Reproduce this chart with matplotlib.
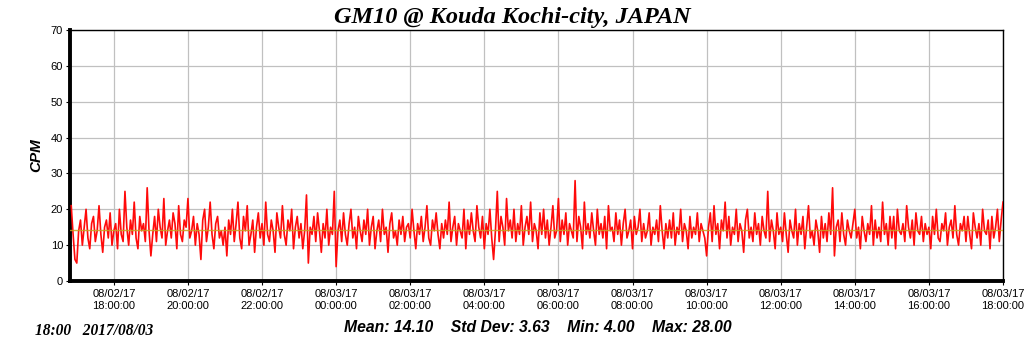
import matplotlib
matplotlib.use("Agg")
import matplotlib.pyplot as plt
import matplotlib.dates as mdates
import pandas as pd

# CPM readings, 3-minute spacing, starting 2017-08-02 16:51
cpm_start = "2017-08-02 16:51"
cpm = [
    21, 13, 6,
    5, 14, 17, 10, 15, 20, 12, 9, 16, 18, 11, 14, 21, 13, 8, 15, 17, 12, 19, 10,      # 17h
    14, 16, 9, 20, 13, 11, 25, 15, 10, 17, 13, 22, 12, 9, 18, 14, 16, 11, 26, 14,     # 18h
    7, 13, 18, 11, 20, 15, 12, 23, 10, 14, 17, 12, 19, 16, 9, 21, 13, 11, 17, 15,     # 19h
    23, 12, 14, 18, 10, 16, 13, 6, 17, 20, 11, 15, 22, 13, 9, 16, 18, 12, 14, 10,     # 20h
    15, 7, 17, 13, 20, 11, 16, 22, 12, 9, 18, 14, 21, 10, 13, 17, 8, 15, 19, 12,      # 21h
    16, 10, 22, 13, 11, 17, 14, 8, 19, 15, 12, 21, 13, 10, 17, 14, 20, 9, 15, 18,     # 22h
    12, 16, 9, 14, 24, 5, 15, 13, 18, 11, 19, 14, 8, 16, 12, 20, 10, 15, 13, 25,      # 23h
    4, 14, 17, 11, 19, 13, 10, 16, 20, 12, 15, 9, 18, 14, 11, 17, 13, 20, 10, 15,     # 00h
    18, 9, 14, 17, 11, 20, 13, 15, 8, 16, 19, 12, 14, 10, 17, 13, 18, 11, 15, 16,     # 01h
    12, 20, 14, 9, 16, 13, 18, 11, 15, 21, 12, 10, 17, 14, 19, 13, 9, 16, 12, 17,     # 02h
    13, 22, 11, 15, 18, 10, 16, 14, 12, 20, 9, 17, 13, 19, 14, 11, 21, 15, 12, 18,    # 03h
    9, 16, 13, 20, 12, 6, 14, 25, 11, 18, 15, 10, 23, 14, 17, 12, 20, 11, 16, 13,     # 04h
    21, 10, 15, 18, 13, 22, 11, 16, 14, 9, 19, 13, 20, 12, 17, 10, 15, 21, 12, 14,    # 05h
    23, 11, 17, 13, 19, 10, 16, 14, 12, 28, 11, 18, 15, 9, 22, 13, 16, 12, 19, 14,    # 06h
    10, 20, 13, 16, 12, 18, 9, 21, 14, 15, 11, 19, 13, 17, 10, 16, 20, 12, 14, 17,    # 07h
    9, 18, 13, 15, 20, 11, 16, 12, 14, 19, 10, 15, 13, 17, 11, 21, 14, 9, 16, 12,     # 08h
    17, 12, 19, 10, 15, 13, 20, 11, 16, 14, 9, 18, 12, 15, 13, 19, 11, 16, 14, 12,    # 09h
    7, 15, 19, 11, 21, 13, 16, 9, 17, 14, 22, 12, 18, 10, 15, 13, 20, 11, 16, 14,     # 10h
    8, 17, 20, 12, 15, 11, 19, 13, 16, 10, 18, 14, 12, 25, 11, 17, 14, 9, 19, 13,     # 11h
    15, 11, 19, 13, 8, 17, 14, 12, 20, 10, 16, 13, 18, 9, 15, 21, 12, 14, 10, 17,     # 12h
    14, 8, 18, 12, 16, 11, 19, 13, 26, 7, 15, 17, 11, 19, 13, 10, 17, 14, 12, 16,     # 13h
    20, 12, 15, 9, 18, 14, 11, 16, 13, 21, 10, 17, 12, 15, 11, 22, 13, 16, 10, 18,    # 14h
    12, 18, 9, 20, 14, 13, 16, 11, 21, 15, 12, 17, 10, 19, 14, 13, 18, 11, 16, 13,    # 15h
    15, 9, 18, 13, 20, 12, 11, 16, 14, 19, 10, 15, 17, 12, 21, 13, 10, 16, 14, 18,    # 16h
    11, 18, 13, 9, 19, 15, 12, 16, 10, 20, 14, 13, 17, 9, 18, 12, 15, 20, 11, 17,     # 17h
    22,
]
mean_cpm = 14.10
std_cpm = 3.63
min_cpm = 4.00
max_cpm = 28.00
x_start = "2017-08-02 16:49"
x_end = "2017-08-03 18:00"
y_ticks = [0, 10, 20, 30, 40, 50, 60, 70]

times = pd.date_range(cpm_start, periods=len(cpm), freq="3min")

fig = plt.figure(figsize=(10.24, 3.51), dpi=100)
ax = fig.add_axes([70/1024, 1-281/351, (1003-70)/1024, (281-30)/351])

ax.plot(times, cpm, color="#ff0a0a", lw=1.2, zorder=3)
ax.axhline(mean_cpm, color="#c8a020", lw=1.0, zorder=4, alpha=0.85)

ax.set_xlim(pd.Timestamp(x_start), pd.Timestamp(x_end))
ax.set_ylim(0, 70)
ax.set_yticks(y_ticks)
ax.xaxis.set_major_locator(mdates.HourLocator(byhour=range(0, 24, 2)))
ax.xaxis.set_major_formatter(mdates.DateFormatter("%m/%d/%y\n%H:%M:%S"))
ax.grid(True, color="#c0c0c0", lw=0.9, zorder=0)
ax.set_axisbelow(True)

for lab in ax.get_xticklabels() + ax.get_yticklabels():
    lab.set_fontfamily("Liberation Sans")
    lab.set_fontsize(8)
ax.tick_params(axis="both", length=3, width=0.8, pad=2, colors="black")
ax.tick_params(axis="x", pad=3)

ax.spines["left"].set_linewidth(2.8)
ax.spines["bottom"].set_linewidth(2.8)
ax.spines["top"].set_linewidth(1.0)
ax.spines["right"].set_linewidth(1.0)

ax.set_ylabel("CPM", fontfamily="Liberation Sans", fontsize=11, fontweight="bold",
              fontstyle="italic", labelpad=5)

fig.text(512/1024, 1-17/351, "GM10 @ Kouda Kochi-city, JAPAN", ha="center", va="center",
         fontfamily="Liberation Serif", fontsize=17.5, fontweight="bold", fontstyle="italic")
fig.text(35/1024, 1-331/351, "18:00   2017/08/03", ha="left", va="center",
         fontfamily="Liberation Serif", fontsize=11.2, fontweight="bold", fontstyle="italic")
fig.text(538/1024, 1-327/351,
         f"Mean: {mean_cpm:.2f}    Std Dev: {std_cpm:.2f}    Min: {min_cpm:.2f}    Max: {max_cpm:.2f}",
         ha="center", va="center", fontfamily="Liberation Sans", fontsize=11.3,
         fontweight="bold", fontstyle="italic")

fig.savefig("out.png", dpi=100)
